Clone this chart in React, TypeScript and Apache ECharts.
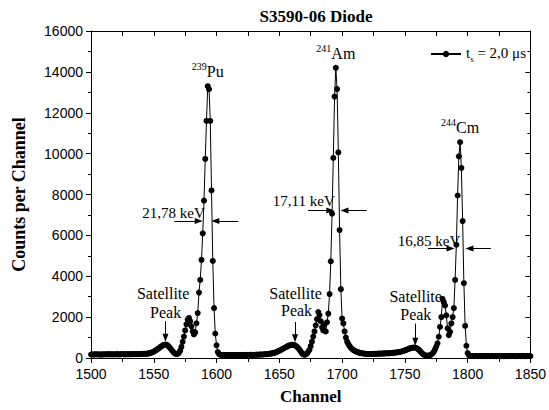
import React, { useEffect, useRef } from "react";
import * as echarts from "echarts";

// ---------- data ----------
const CHANNEL_START = 1500;
// counts per channel, channels 1500 ... 1850
const counts: number[] = [
  // 1500-1549
  170, 180, 165, 175, 185, 170, 180, 175, 165, 180,
  175, 185, 170, 180, 190, 175, 185, 180, 170, 185,
  180, 190, 175, 185, 180, 195, 185, 180, 190, 185,
  190, 180, 195, 185, 190, 200, 190, 195, 185, 200,
  195, 205, 200, 210, 205, 215, 225, 240, 260, 285,
  // 1550-1599
  315, 350, 390, 430, 475, 520, 565, 605, 640, 660,
  650, 615, 560, 490, 410, 330, 260, 215, 195, 200,
  250, 360, 540, 790, 1050, 1350, 1650, 1880, 1960, 1800,
  1550, 1300, 1150, 1250, 1700, 2200, 3200, 3820, 4800, 6100,
  7700, 9740, 11600, 13300, 13150, 11600, 8200, 4750, 2440, 1200,
  // 1600-1649
  620, 290, 190, 160, 150, 155, 145, 150, 140, 150,
  145, 150, 140, 145, 150, 140, 145, 150, 145, 140,
  150, 145, 155, 150, 145, 155, 150, 160, 155, 150,
  160, 155, 165, 160, 170, 165, 175, 170, 180, 185,
  190, 200, 205, 215, 225, 240, 255, 275, 300, 325,
  // 1650-1699
  355, 385, 420, 455, 490, 525, 560, 590, 615, 635,
  645, 645, 630, 600, 555, 490, 410, 320, 230, 180,
  160, 175, 220, 300, 400, 580, 800, 1050, 1300, 1600,
  1900, 2250, 2100, 1800, 1500, 1350, 1650, 1300, 1750, 2170,
  3130, 4730, 7060, 9790, 12790, 14200, 13160, 10060, 6260, 3370,
  // 1700-1749
  1930, 1690, 1300, 1000, 800, 680, 580, 500, 440, 390,
  350, 320, 295, 275, 255, 240, 230, 220, 210, 205,
  200, 195, 200, 195, 200, 205, 200, 210, 205, 215,
  210, 220, 215, 225, 220, 230, 235, 230, 240, 245,
  250, 255, 265, 270, 280, 290, 300, 315, 330, 350,
  // 1750-1799
  370, 395, 420, 445, 470, 490, 505, 515, 510, 490,
  455, 405, 345, 280, 215, 165, 130, 115, 110, 120,
  140, 170, 220, 300, 420, 560, 720, 1040, 1520, 2000,
  2890, 2730, 2570, 2090, 1450, 1120, 1280, 1690, 2000, 2440,
  3820, 5540, 7950, 9870, 10560, 9300, 6700, 3660, 1570, 600,
  // 1800-1850
  240, 130, 100, 95, 100, 90, 95, 100, 90, 95,
  90, 95, 100, 90, 95, 90, 100, 95, 90, 95,
  100, 90, 95, 90, 100, 95, 90, 95, 100, 90,
  95, 90, 100, 95, 90, 95, 100, 90, 95, 90,
  100, 95, 90, 95, 100, 90, 95, 90, 100, 95,
  90,
];

const xTicks = { min: 1500, max: 1850, interval: 50 };
const yTicks = { min: 0, max: 16000, interval: 2000 };

const SERIES_NAME = "ts = 2,0 μs";

// peak annotations
const peakMass = ["239", "241", "244"];
const peakElement = ["Pu", "Am", "Cm"];
const peakChannel = [1593, 1695, 1794];
const peakTop = [13300, 14200, 10560];

// FWHM annotations (text centre in data coordinates)
const fwhmText = ["21,78 keV", "17,11 keV", "16,85 keV"];
const fwhmTextChannel = [1565.7, 1669.5, 1769.2];
const fwhmTextValue = [7090, 7704, 5730];
const fwhmArrowValue = [6707, 7222, 5359];
const fwhmLeftFrom = [1566.5, 1672.9, 1768.4];
const fwhmLeftTo = [1585.8, 1690.6, 1786.4];
const fwhmRightFrom = [1617.4, 1719.6, 1818.5];
const fwhmRightTo = [1599.0, 1701.9, 1801.4];

// satellite peak annotations
const satChannel = [1559.3, 1662.5, 1758.3];
const satWord1Channel = [1557.5, 1662.9, 1758.6];
const satWord1Value = [3150, 3178, 3000];
const satWord2Channel = [1559.4, 1663.7, 1758.7];
const satWord2Value = [2250, 2326, 2119];
const satArrowFrom = [1800, 1760, 1685];
const satArrowTo = [990, 963, 800];

const SERIF = "'Liberation Serif', 'Times New Roman', serif";
const SANS = "'Liberation Sans', Arial, sans-serif";

export default function App() {
  const ref = useRef<HTMLDivElement>(null);

  useEffect(() => {
    if (!ref.current) return;
    const chart = echarts.init(ref.current, undefined, { renderer: "svg" });

    const data = counts.map((v, i) => [CHANNEL_START + i, v]);

    const markPoints: any[] = [];
    peakChannel.forEach((c, i) => {
      markPoints.push({
        coord: [c, peakTop[i]],
        label: {
          show: true,
          position: "top",
          distance: 6,
          fontFamily: SERIF,
          formatter: `{sup|${peakMass[i]}}{el|${peakElement[i]}}`,
          rich: {
            sup: { fontSize: 10, fontFamily: SERIF, color: "#000", lineHeight: 10, verticalAlign: "top" },
            el: { fontSize: 16, fontFamily: SERIF, color: "#000", lineHeight: 18, verticalAlign: "bottom" },
          },
        },
      });
    });

    const markLines: any[] = [];
    fwhmArrowValue.forEach((v, i) => {
      markLines.push([{ coord: [fwhmLeftFrom[i], v] }, { coord: [fwhmLeftTo[i], v] }]);
      markLines.push([{ coord: [fwhmRightFrom[i], v] }, { coord: [fwhmRightTo[i], v] }]);
    });
    satChannel.forEach((c, i) => {
      markLines.push([{ coord: [c, satArrowFrom[i]] }, { coord: [c, satArrowTo[i]] }]);
    });

    const axisLineStyle = { color: "#000", width: 1 };
    const plain = (v: number) => String(v);

    chart.setOption({
      animation: false,
      backgroundColor: "#fff",
      title: {
        text: "S3590-06 Diode",
        left: 311,
        textAlign: "center",
        top: 3,
        textStyle: { fontFamily: SERIF, fontWeight: "bold", fontSize: 17, color: "#000" },
      },
      legend: {
        right: 18,
        top: 40,
        itemWidth: 30,
        itemHeight: 8,
        data: [SERIES_NAME],
        formatter: () => "{t|t}{s|s}{t| = 2,0 μs}",
        textStyle: {
          color: "#000",
          fontFamily: SERIF,
          fontSize: 15,
          rich: {
            t: { fontFamily: SERIF, fontSize: 15, color: "#000", lineHeight: 18, verticalAlign: "top" },
            s: { fontFamily: SERIF, fontSize: 9, color: "#000", lineHeight: 9, verticalAlign: "bottom" },
          },
        },
      },
      grid: { left: 91, right: 17, top: 31, bottom: 47, containLabel: false },
      xAxis: [
        {
          type: "value",
          ...xTicks,
          position: "bottom",
          name: "Channel",
          nameLocation: "middle",
          nameGap: 30,
          nameTextStyle: { fontFamily: SERIF, fontWeight: "bold", fontSize: 17, color: "#000" },
          axisLine: { show: true, onZero: false, lineStyle: axisLineStyle },
          axisTick: { show: true, inside: false, length: 5, lineStyle: axisLineStyle },
          minorTick: { show: true, splitNumber: 2, length: 4, lineStyle: axisLineStyle },
          axisLabel: { fontFamily: SANS, fontSize: 14, color: "#000", margin: 9, formatter: plain },
          splitLine: { show: false },
        },
        {
          type: "value",
          min: 1500,
          max: 1850,
          interval: 25,
          position: "top",
          axisLine: { show: true, onZero: false, lineStyle: axisLineStyle },
          axisTick: { show: true, inside: true, length: 5, lineStyle: axisLineStyle },
          axisLabel: { show: false },
          splitLine: { show: false },
        },
      ],
      yAxis: [
        {
          type: "value",
          ...yTicks,
          position: "left",
          name: "Counts per Channel",
          nameLocation: "middle",
          nameGap: 63,
          nameTextStyle: { fontFamily: SERIF, fontWeight: "bold", fontSize: 18, color: "#000" },
          axisLine: { show: true, onZero: false, lineStyle: axisLineStyle },
          axisTick: { show: true, inside: false, length: 5, lineStyle: axisLineStyle },
          minorTick: { show: true, splitNumber: 2, length: 3, lineStyle: axisLineStyle },
          axisLabel: { fontFamily: SANS, fontSize: 14, color: "#000", margin: 8, formatter: plain },
          splitLine: { show: false },
        },
        {
          type: "value",
          ...yTicks,
          position: "right",
          axisLine: { show: true, onZero: false, lineStyle: axisLineStyle },
          axisTick: { show: true, inside: true, length: 5, lineStyle: axisLineStyle },
          minorTick: { show: true, splitNumber: 2, length: 3, lineStyle: axisLineStyle },
          axisLabel: { show: false },
          splitLine: { show: false },
        },
      ],
      series: [
        {
          name: SERIES_NAME,
          type: "line",
          xAxisIndex: 0,
          yAxisIndex: 0,
          data,
          symbol: "circle",
          symbolSize: 6,
          showAllSymbol: true,
          lineStyle: { color: "#000", width: 1 },
          itemStyle: { color: "#000" },
          emphasis: { disabled: true },
          markPoint: {
            symbol: "circle",
            symbolSize: 1,
            itemStyle: { color: "rgba(0,0,0,0)" },
            silent: true,
            data: markPoints,
          },
          markLine: {
            silent: true,
            symbol: ["none", "triangle"],
            symbolSize: [6, 8],
            label: { show: false },
            lineStyle: { color: "#000", width: 1, type: "solid" },
            emphasis: { disabled: true },
            data: markLines,
          },
        },
      ],
    });

    // annotation texts placed through the chart's own coordinate conversion
    const toPx = (c: number, v: number) =>
      chart.convertToPixel({ xAxisIndex: 0, yAxisIndex: 0 }, [c, v]) as number[];
    const textEl = (t: string, c: number, v: number, size: number) => {
      const [x, y] = toPx(c, v);
      return {
        type: "text",
        x,
        y,
        silent: true,
        style: {
          text: t,
          fontFamily: SERIF,
          fontSize: size,
          fill: "#000",
          align: "center",
          verticalAlign: "middle",
        },
      };
    };
    const graphics: any[] = [];
    fwhmText.forEach((t, i) => graphics.push(textEl(t, fwhmTextChannel[i], fwhmTextValue[i], 15)));
    satChannel.forEach((_, i) => {
      graphics.push(textEl("Satellite", satWord1Channel[i], satWord1Value[i], 16));
      graphics.push(textEl("Peak", satWord2Channel[i], satWord2Value[i], 16));
    });
    chart.setOption({ graphic: graphics });

    return () => chart.dispose();
  }, []);

  return (
    <div
      ref={ref}
      style={{ position: "fixed", left: 0, top: 0, width: 549, height: 410, background: "#fff" }}
    />
  );
}
